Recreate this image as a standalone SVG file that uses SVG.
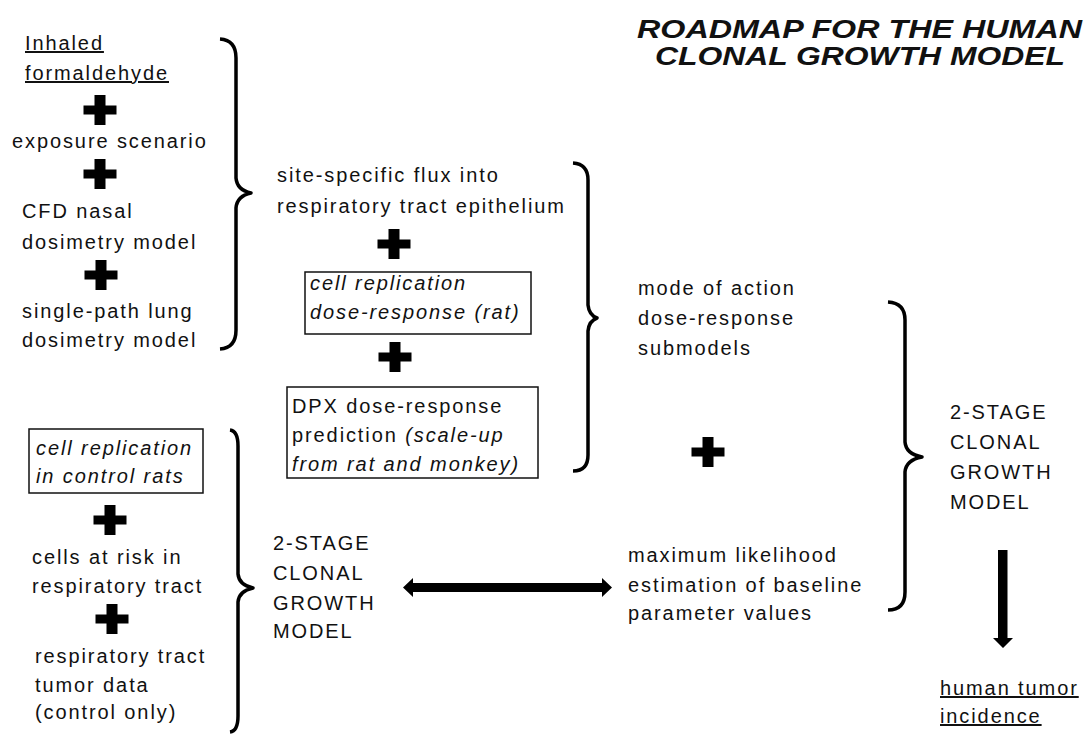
<svg xmlns="http://www.w3.org/2000/svg" width="1091" height="735" viewBox="0 0 1091 735">
<style>
text{font-family:"Liberation Sans",Arial,sans-serif;font-size:20px;fill:#111;letter-spacing:1.9px}
.it{font-style:italic}
.u{text-decoration:underline}
.title{font-size:25px;font-weight:bold;font-style:italic;letter-spacing:0}
.box{fill:none;stroke:#111;stroke-width:1.5}
.brace{fill:none;stroke:#000;stroke-width:3.5;stroke-linejoin:round;stroke-linecap:butt}
.arrow{fill:#000}
</style>
<defs>
<path id="plus" d="M-5.5,-15 H5.5 V-4.5 H16.5 V4.5 H5.5 V15 H-5.5 V4.5 H-16.5 V-4.5 H-5.5 Z" fill="#000"/>
</defs>
<rect width="1091" height="735" fill="#fff"/>

<g id="title">
<text class="title" x="637" y="38" textLength="445" lengthAdjust="spacingAndGlyphs">ROADMAP FOR THE HUMAN</text>
<text class="title" x="655" y="65" textLength="410" lengthAdjust="spacingAndGlyphs">CLONAL GROWTH MODEL</text>
</g>

<g id="inputs-exposure">
<text class="u" x="25" y="50">Inhaled</text>
<text class="u" x="25" y="80">formaldehyde</text>
<use href="#plus" x="100" y="110"/>
<text x="12" y="148">exposure scenario</text>
<use href="#plus" x="100" y="174"/>
<text x="22" y="218">CFD nasal</text>
<text x="22" y="249">dosimetry model</text>
<use href="#plus" x="101" y="275"/>
<text x="22" y="318">single-path lung</text>
<text x="22" y="347">dosimetry model</text>
</g>

<g id="flux">
<text x="277" y="182">site-specific flux into</text>
<text x="277" y="213">respiratory tract epithelium</text>
</g>
<use href="#plus" x="394" y="244"/>
<g id="cell-replication-rat">
<rect class="box" x="305" y="272" width="226" height="62"/>
<text class="it" x="310" y="290">cell replication</text>
<text class="it" x="310" y="319">dose-response (rat)</text>
</g>
<use href="#plus" x="395" y="357"/>
<g id="dpx">
<rect class="box" x="287" y="387" width="251" height="91"/>
<text x="292" y="413">DPX dose-response</text>
<text x="292" y="442">prediction <tspan class="it">(scale-up</tspan></text>
<text class="it" x="292" y="471">from rat and monkey)</text>
</g>

<g id="mode-of-action">
<text x="638" y="295">mode of action</text>
<text x="638" y="325">dose-response</text>
<text x="638" y="355">submodels</text>
</g>
<use href="#plus" x="708" y="452"/>
<g id="mle">
<text x="628" y="562">maximum likelihood</text>
<text x="628" y="592">estimation of baseline</text>
<text x="628" y="620">parameter values</text>
</g>

<g id="cell-replication-control">
<rect class="box" x="29" y="429" width="174" height="64"/>
<text class="it" x="36" y="455">cell replication</text>
<text class="it" x="36" y="483">in control rats</text>
</g>
<use href="#plus" x="110" y="520"/>
<g id="cells-at-risk">
<text x="32" y="564">cells at risk in</text>
<text x="32" y="593">respiratory tract</text>
</g>
<use href="#plus" x="112" y="619"/>
<g id="tumor-data">
<text x="35" y="663">respiratory tract</text>
<text x="35" y="692">tumor data</text>
<text x="35" y="719">(control only)</text>
</g>

<g id="clonal-model-rat">
<text x="273" y="550">2-STAGE</text>
<text x="273" y="580">CLONAL</text>
<text x="273" y="610">GROWTH</text>
<text x="273" y="638">MODEL</text>
</g>

<g id="clonal-model-human">
<text x="950" y="419">2-STAGE</text>
<text x="950" y="449">CLONAL</text>
<text x="950" y="479">GROWTH</text>
<text x="950" y="509">MODEL</text>
</g>

<g id="human-tumor">
<text class="u" x="940" y="695">human tumor</text>
<text class="u" x="940" y="723">incidence</text>
</g>

<g id="connectors">
<path class="brace" d="M220,39 Q236,40 236,58 L236,178 Q237,190 251,193 Q237,196 236,208 L236,330 Q236,348 220,349"/>
<path class="brace" d="M573,163 Q588,164 588,180 L588,305 Q589,315 597,318 Q589,321 588,331 L588,455 Q588,471 573,471"/>
<path class="brace" d="M888,302 Q905,303 905,320 L905,442 Q906,454 922,457 Q906,460 905,472 L905,592 Q905,610 888,610"/>
<path class="brace" d="M230,430 Q238,431 238,446 L238,574 Q239,585 253,588 Q239,591 238,602 L238,716 Q238,731 230,732"/>
<path class="arrow" d="M403,587.5 L413,578 L413,583 L602,583 L602,578 L612,587.5 L602,597 L602,592 L413,592 L413,597 Z"/>
<path class="arrow" d="M998,550 H1007.5 V638 H1013 L1003,648 L993,638 H998 Z"/>
</g>
</svg>
